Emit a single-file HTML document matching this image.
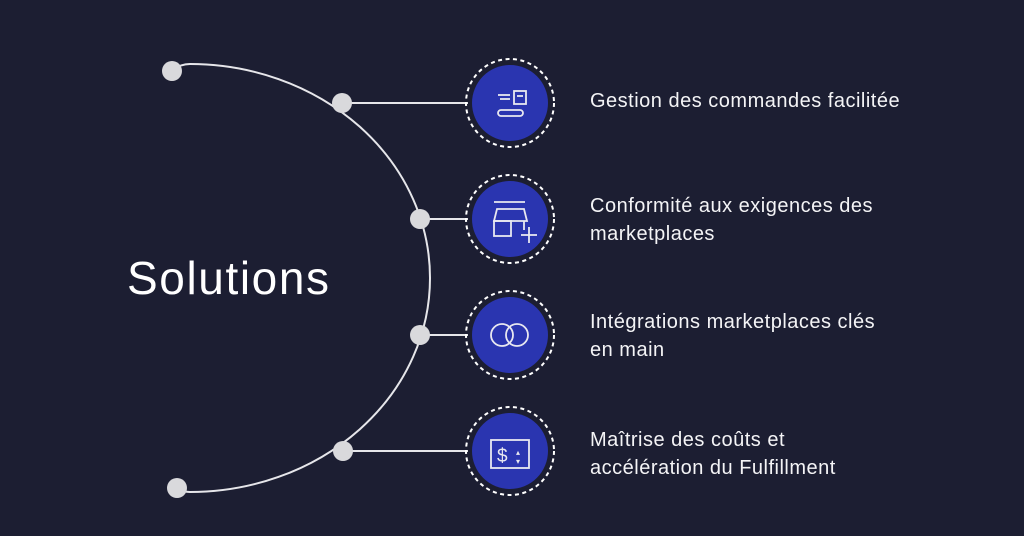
<!DOCTYPE html>
<html><head><meta charset="utf-8"><style>
html,body{margin:0;padding:0;}
body{width:1024px;height:536px;background:#1c1e32;overflow:hidden;position:relative;font-family:"Liberation Sans",sans-serif;color:#fff;}
.t{position:absolute;left:590px;font-size:20px;letter-spacing:0.5px;line-height:28px;color:#f4f4f6;}
</style></head><body>
<svg width="1024" height="536" style="position:absolute;left:0;top:0">
<g fill="none" stroke="#e6e6ea" stroke-width="2">
<path d="M172,70 Q181,64 190,64 A240 214 0 0 1 190,492 Q183,492 177,488"/>
<line x1="342" y1="103" x2="468" y2="103"/>
<line x1="420" y1="219" x2="468" y2="219"/>
<line x1="420" y1="335" x2="468" y2="335"/>
<line x1="343" y1="451" x2="468" y2="451"/>
</g>
<g fill="#d9d9dc">
<circle cx="172" cy="71" r="10"/><circle cx="342" cy="103" r="10"/>
<circle cx="420" cy="219" r="10"/><circle cx="420" cy="335" r="10"/>
<circle cx="343" cy="451" r="10"/><circle cx="177" cy="488" r="10"/>
</g>
<g>
<circle cx="510" cy="103" r="44" fill="none" stroke="#fff" stroke-width="2" stroke-dasharray="4 3.5"/>
<circle cx="510" cy="103" r="38" fill="#2a35b0"/>
<circle cx="510" cy="219" r="44" fill="none" stroke="#fff" stroke-width="2" stroke-dasharray="4 3.5"/>
<circle cx="510" cy="219" r="38" fill="#2a35b0"/>
<circle cx="510" cy="335" r="44" fill="none" stroke="#fff" stroke-width="2" stroke-dasharray="4 3.5"/>
<circle cx="510" cy="335" r="38" fill="#2a35b0"/>
<circle cx="510" cy="451" r="44" fill="none" stroke="#fff" stroke-width="2" stroke-dasharray="4 3.5"/>
<circle cx="510" cy="451" r="38" fill="#2a35b0"/>
</g>
<g fill="none" stroke="#e8e8f0" stroke-width="1.8">
<rect x="514" y="91" width="12" height="13"/><line x1="517" y1="96" x2="523" y2="96"/>
<line x1="498" y1="95" x2="510" y2="95"/><line x1="500" y1="99" x2="510" y2="99"/>
<rect x="498" y="110" width="25" height="6" rx="3"/>
<line x1="494" y1="202" x2="525" y2="202"/>
<path d="M494,221 L497,209 L524,209 L527,221 Z"/>
<rect x="494" y="221" width="17" height="15"/>
<line x1="524" y1="221" x2="524" y2="230"/>
<line x1="521" y1="235" x2="537" y2="235"/><line x1="529" y1="227" x2="529" y2="243"/>
<circle cx="502" cy="335" r="11"/><circle cx="517" cy="335" r="11"/>
<rect x="491" y="440" width="38" height="28"/>
</g>
<text x="497" y="462" font-family="Liberation Sans" font-size="19" fill="#e8e8f0">$</text>
<text x="516" y="455" font-family="Liberation Sans" font-size="8" fill="#e8e8f0">▴</text>
<text x="516" y="464" font-family="Liberation Sans" font-size="8" fill="#e8e8f0">▾</text>
</svg>
<div style="position:absolute;left:127px;top:251px;font-size:46px;letter-spacing:1.6px;color:#fff;">Solutions</div>
<div class="t" style="top:87px">Gestion des commandes facilitée</div>
<div class="t" style="top:192px">Conformité aux exigences des<br>marketplaces</div>
<div class="t" style="top:308px">Intégrations marketplaces clés<br>en main</div>
<div class="t" style="top:426px">Maîtrise des coûts et<br>accélération du Fulfillment</div>
</body></html>
